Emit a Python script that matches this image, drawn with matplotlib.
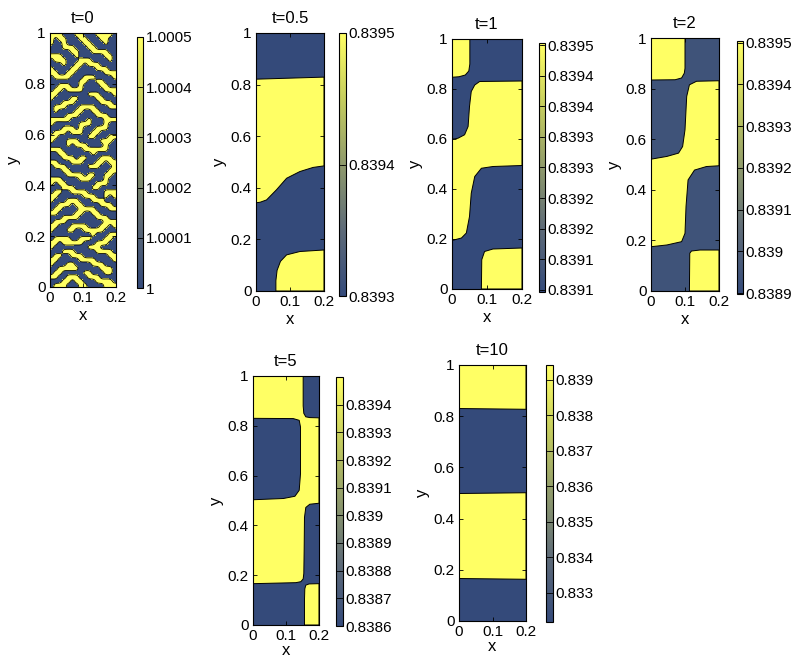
import numpy as np
import matplotlib
matplotlib.use("Agg")
import matplotlib.pyplot as plt
from matplotlib.colors import LinearSegmentedColormap, Normalize
from matplotlib.cm import ScalarMappable

plt.rcParams['font.family'] = ['Liberation Sans', 'DejaVu Sans']

# ---------- data ----------
titles = ['t=0', 't=0.5', 't=1', 't=2', 't=5', 't=10']

# colourbar limits per panel
cb_range = [(1.0, 1.0005), (0.8393, 0.8395), (0.839096, 0.839504),
            (0.838898, 0.839504), (0.8386, 0.8395), (0.83218, 0.83942)]
cb_ticks = [
    [1.0, 1.0001, 1.0002, 1.0003, 1.0004, 1.0005],
    [0.8393, 0.8394, 0.8395],
    [0.8391, 0.83915, 0.8392, 0.83925, 0.8393, 0.83935, 0.8394, 0.83945, 0.8395],
    [0.8389, 0.839, 0.8391, 0.8392, 0.8393, 0.8394, 0.8395],
    [0.8386, 0.8387, 0.8388, 0.8389, 0.839, 0.8391, 0.8392, 0.8393, 0.8394],
    [0.833, 0.834, 0.835, 0.836, 0.837, 0.838, 0.839],
]
cb_labels = [
    ['1', '1.0001', '1.0002', '1.0003', '1.0004', '1.0005'],
    ['0.8393', '0.8394', '0.8395'],
    ['0.8391', '0.8391', '0.8392', '0.8392', '0.8393', '0.8393', '0.8394', '0.8394', '0.8395'],
    ['0.8389', '0.839', '0.8391', '0.8392', '0.8393', '0.8394', '0.8395'],
    ['0.8386', '0.8387', '0.8388', '0.8389', '0.839', '0.8391', '0.8392', '0.8393', '0.8394'],
    ['0.833', '0.834', '0.835', '0.836', '0.837', '0.838', '0.839'],
]
# value of the low (blue) and high (yellow) phase in each panel
phase_low = [1.0, 0.8393, 0.839096, 0.83894, 0.8386, 0.83218]
phase_high = [1.0005, 0.8395, 0.839504, 0.839504, 0.8395, 0.83942]

# t=0: coarse map of the initial noise, 1 = high phase (row 0 is y=1)
t0_grid = [
    "1110001100011110", "1011000110001100", "1001000011000100", "0001110001100000",
    "0000011000111100", "1110001000000110", "0111000111000010", "0001001101110000",
    "1000011000011100", "1100110000000111", "0111100011100001", "0000000110011000",
    "0011100100001100", "0110111100000111", "1100000001110001", "1000011000011000",
    "0001110000001110", "0111000111100011", "0100001100110000", "0000111000011100",
    "1111100001000111", "1000000111000100", "0001110100011100", "0111011100110000",
    "1100000001100011", "1000111000001110", "0000101110000100", "1110000011111100",
    "0011000000100000", "0001110110001110", "1100011100011011", "0111000001110001",
    "0001100000000011", "0000111101100110", "1110000111000100", "1011000000011100",
    "0001110000110000", "0110011110000111", "1100000011100101", "1000111000111000",
    "0011101100001110", "0110000111100011", "1100001100110000", "0001111000011100",
    "0111000000000111", "1100011110001101", "1000110011111000", "0000000000100011",
    "0111100111000110", "1101111100011100", "1000000001110000", "0001110000011110",
    "0110011100000011", "1100000111100001", "1000110000111000", "0011111000001110",
    "0110000011000110", "1100111001110000", "0001101100011110", "0111000110000111",
]

# high-phase regions (x, y)
t05_band = [(0, 0.821), (0.2, 0.829), (0.2, 0.485), (0.168, 0.479), (0.129, 0.463),
            (0.09, 0.437), (0.06, 0.392), (0.031, 0.353), (0.012, 0.344), (0, 0.342)]
t05_corner = [(0.0585, 0), (0.2, 0), (0.2, 0.159), (0.129, 0.153), (0.09, 0.14),
              (0.072, 0.115), (0.062, 0.08), (0.0585, 0.04)]

t1_top = [(0, 1), (0.051, 1), (0.051, 0.9), (0.048, 0.872), (0.038, 0.856),
          (0.02, 0.849), (0, 0.847)]
t1_band = [(0, 0.599), (0.017, 0.603), (0.036, 0.617), (0.046, 0.65), (0.05, 0.73),
           (0.055, 0.79), (0.065, 0.816), (0.079, 0.83), (0.2, 0.832), (0.2, 0.494),
           (0.117, 0.49), (0.084, 0.483), (0.065, 0.45), (0.055, 0.383), (0.05, 0.29),
           (0.041, 0.224), (0.027, 0.204), (0, 0.194)]
t1_corner = [(0.084, 0), (0.2, 0), (0.2, 0.164), (0.117, 0.16), (0.093, 0.15),
             (0.085, 0.117)]

t2_top = [(0, 1), (0.1, 1), (0.1, 0.88), (0.098, 0.861), (0.09, 0.842),
          (0.071, 0.835), (0, 0.834)]
t2_band = [(0, 0.521), (0.047, 0.532), (0.081, 0.545), (0.093, 0.571), (0.1, 0.637),
           (0.105, 0.769), (0.113, 0.815), (0.134, 0.829), (0.2, 0.831), (0.2, 0.495),
           (0.163, 0.492), (0.128, 0.478), (0.109, 0.439), (0.103, 0.334), (0.1, 0.228),
           (0.09, 0.195), (0.047, 0.182), (0, 0.175)]
t2_corner = [(0.113, 0), (0.2, 0), (0.2, 0.162), (0.144, 0.162), (0.119, 0.158),
             (0.114, 0.149)]

t5_main = [(0, 1), (0.152, 1), (0.152, 0.88), (0.154, 0.85), (0.16, 0.836),
           (0.172, 0.833), (0.2, 0.832), (0.2, 0.489), (0.172, 0.485), (0.16, 0.472),
           (0.156, 0.432), (0.155, 0.3), (0.154, 0.207), (0.152, 0.185), (0.145, 0.174),
           (0.13, 0.17), (0, 0.166), (0, 0.503), (0.092, 0.508), (0.127, 0.517),
           (0.14, 0.541), (0.144, 0.608), (0.144, 0.795), (0.14, 0.822),
           (0.122, 0.829), (0, 0.83)]
t5_corner = [(0.156, 0), (0.2, 0), (0.2, 0.166), (0.17, 0.165), (0.16, 0.16),
             (0.157, 0.145), (0.156, 0.1)]

t10_top = [(0, 1), (0.2, 1), (0.2, 0.827), (0, 0.83)]
t10_mid = [(0, 0.498), (0.2, 0.501), (0.2, 0.163), (0, 0.166)]

regions = [None, [t05_band, t05_corner], [t1_top, t1_band, t1_corner],
           [t2_top, t2_band, t2_corner], [t5_main, t5_corner], [t10_top, t10_mid]]

# ---------- layout (pixels: left, top, right, bottom) ----------
W, H = 793, 659
ax_px = [(50, 33, 116, 287), (256, 33, 324, 291), (452, 39, 522, 289),
         (651, 38, 719, 291), (253, 376, 319, 625), (459, 365, 526, 621)]
cb_px = [(137, 37, 143, 288), (339, 33, 346, 296), (539, 43, 545, 292),
         (737, 41, 743, 294), (336, 377, 343, 626), (546, 365, 553, 622)]


def rect(p):
    l, t, r, b = p
    return [l / W, 1 - b / H, (r - l) / W, (b - t) / H]


cmap = LinearSegmentedColormap.from_list(
    'phase', ['#344a7a', '#5d6a78', '#8f9a6c', '#c5cd5e', '#ffff64'])

fig = plt.figure(figsize=(W / 100, H / 100), dpi=100)
FS = 11

for i in range(6):
    ax = fig.add_axes(rect(ax_px[i]))
    norm = Normalize(*cb_range[i])
    lo = cmap(norm(phase_low[i]))
    hi = cmap(norm(phase_high[i]))

    if i == 0:
        g = np.array([[int(c) for c in row] for row in t0_grid], dtype=float)
        k = 4
        fine = np.kron(g, np.ones((k, k)))
        n = np.arange(-6, 7)
        ker = np.exp(-n ** 2 / (2 * 1.8 ** 2))
        ker /= ker.sum()
        fp = np.pad(fine, 6, mode='edge')
        fp = np.apply_along_axis(lambda v: np.convolve(v, ker, 'valid'), 1, fp)
        fp = np.apply_along_axis(lambda v: np.convolve(v, ker, 'valid'), 0, fp)
        field = phase_low[0] + (phase_high[0] - phase_low[0]) * fp
        xs = np.linspace(0, 0.2, field.shape[1])
        ys = np.linspace(1, 0, field.shape[0])
        mid = 0.5 * (phase_low[0] + phase_high[0])
        ax.contourf(xs, ys, field, levels=[field.min() - 1, mid, field.max() + 1],
                    colors=[lo, hi])
        ax.contour(xs, ys, field, levels=[mid], colors='k', linewidths=0.6)
    else:
        ax.set_facecolor(lo)
        for poly in regions[i]:
            px_, py_ = zip(*poly)
            ax.fill(px_, py_, facecolor=hi, edgecolor='k', linewidth=0.7)

    ax.set_xlim(0, 0.2)
    ax.set_ylim(0, 1)
    ax.set_xticks([0, 0.1, 0.2])
    ax.set_xticklabels(['0', '0.1', '0.2'])
    ax.set_yticks([0, 0.2, 0.4, 0.6, 0.8, 1])
    ax.set_yticklabels(['0', '0.2', '0.4', '0.6', '0.8', '1'])
    ax.tick_params(direction='in', top=True, right=True, length=3, width=0.6,
                   labelsize=FS, pad=3)
    for s in ax.spines.values():
        s.set_linewidth(0.8)
    ax.set_xlabel('x', fontsize=FS + 1, labelpad=2 if i < 4 else 0)
    ax.set_ylabel('y', fontsize=FS + 1, labelpad=3)
    ax.set_title(titles[i], fontsize=FS + 1, pad=7)

    cax = fig.add_axes(rect(cb_px[i]))
    cb = fig.colorbar(ScalarMappable(norm=norm, cmap=cmap), cax=cax)
    cb.set_ticks(cb_ticks[i])
    cb.set_ticklabels(cb_labels[i])
    cb.outline.set_linewidth(0.8)
    cax.tick_params(direction='in', left=True, right=True, length=3, width=0.6,
                    labelsize=FS, pad=2)

fig.savefig('out.png', dpi=100)
